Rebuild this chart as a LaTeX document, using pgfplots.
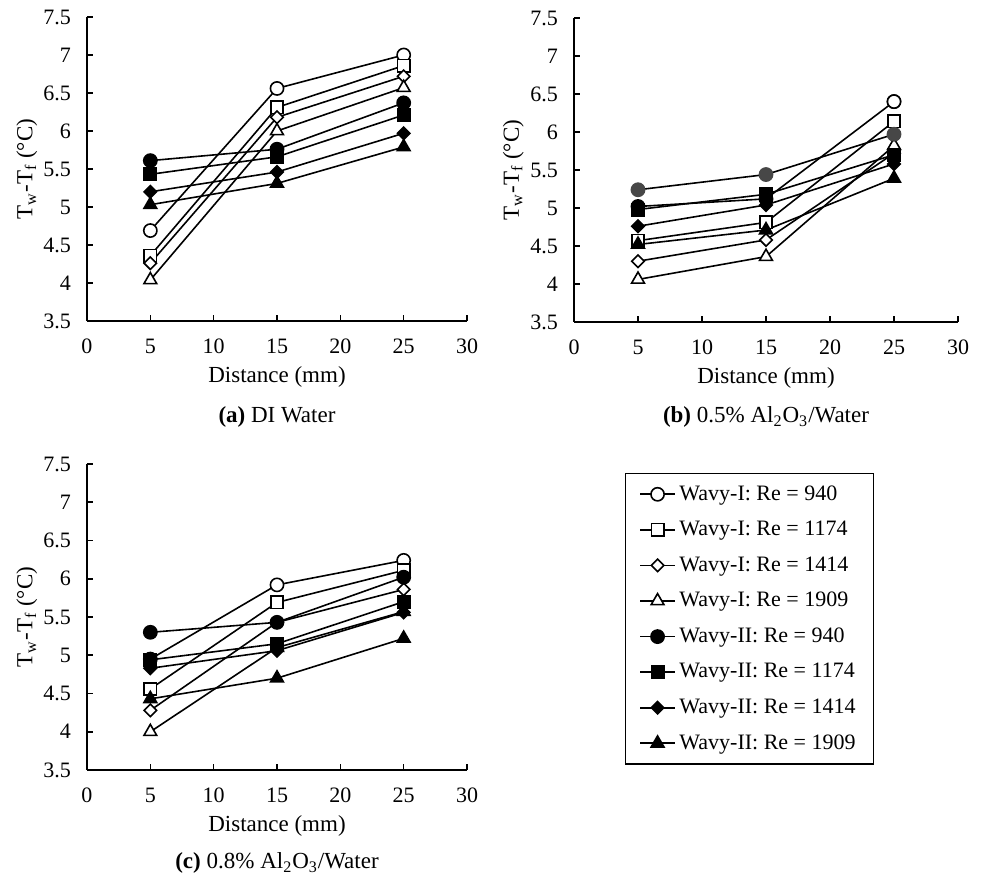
\documentclass[border=0pt]{standalone}
\usepackage{pgfplots}
\pgfplotsset{compat=1.18}
\usepackage{fontspec}
\setmainfont{Liberation Serif}

\pgfplotsset{
  panel/.style={
    scale only axis, width=190pt, height=152pt,
    xmin=0, xmax=30, ymin=3.5, ymax=7.5,
    xtick={0,5,...,30}, ytick={3.5,4,...,7.5},
    axis lines=left, axis line style={-, line width=0.8pt},
    tick align=inside, major tick length=3pt, tick style={black, line width=0.8pt},
    /pgf/number format/assume math mode=true,
    tick label style={font=\fontsize{11}{13}\selectfont},
    yticklabel style={xshift=-4.5pt},
    xticklabel style={anchor=center, yshift=-12.5pt},
    label style={font=\fontsize{11.5}{14}\selectfont},
    xlabel={Distance (mm)},
    xlabel style={at={(axis description cs:0.5,0)}, anchor=center, yshift=-28pt},
    ylabel={T\textsubscript{w}-T\textsubscript{f} (°C)},
    ylabel style={at={(axis description cs:-0.158,0.5)}, anchor=center},
    clip=false,
  },
  s1/.style={black, line width=0.8pt, mark=*, mark size=3.3pt, mark options={solid, fill=white}},
  s2/.style={black, line width=0.8pt, mark=square*, mark size=3.1pt, mark options={solid, fill=white}},
  s3/.style={black, line width=0.8pt, mark=square*, mark size=2.2pt, mark options={solid, rotate=45, fill=white}},
  s4/.style={black, line width=0.8pt, mark=triangle*, mark size=3.7pt, mark options={solid, fill=white}},
  s5/.style={black, line width=0.8pt, mark=*, mark size=3.3pt, mark options={solid, fill=black}},
  s6/.style={black, line width=0.8pt, mark=square*, mark size=3.1pt, mark options={solid, fill=black}},
  s7/.style={black, line width=0.8pt, mark=square*, mark size=2.2pt, mark options={solid, rotate=45, fill=black}},
  s8/.style={black, line width=0.8pt, mark=triangle*, mark size=3.7pt, mark options={solid, fill=black}},
}

\begin{document}
\begin{tikzpicture}
\path[use as bounding box] (0,0) rectangle (492pt,438.5pt);

% (a) DI Water
\begin{axis}[panel, at={(43.5pt,278pt)}, anchor=south west]
\addplot[s1] coordinates {(5,4.69) (15,6.56) (25,7.00)};
\addplot[s2] coordinates {(5,4.36) (15,6.31) (25,6.86)};
\addplot[s3] coordinates {(5,4.26) (15,6.18) (25,6.72)};
\addplot[s4] coordinates {(5,4.04) (15,6.00) (25,6.57)};
\addplot[s5] coordinates {(5,5.61) (15,5.76) (25,6.37)};
\addplot[s6] coordinates {(5,5.43) (15,5.66) (25,6.21)};
\addplot[s7] coordinates {(5,5.20) (15,5.46) (25,5.97)};
\addplot[s8] coordinates {(5,5.03) (15,5.31) (25,5.79)};
\end{axis}

% (b) 0.5% Al2O3/Water
\begin{axis}[panel, width=192pt, at={(287pt,277.5pt)}, anchor=south west]
\addplot[s1, mark options={fill=black}] coordinates {(5,5.02) (15,5.12) (25,6.40)};
\addplot[s1, only marks, forget plot] coordinates {(25,6.40)};
\addplot[s2] coordinates {(5,4.57) (15,4.81) (25,6.14)};
\addplot[s3] coordinates {(5,4.30) (15,4.58) (25,5.72)};
\addplot[s4] coordinates {(5,4.06) (15,4.36) (25,5.82)};
\addplot[s5, mark options={fill=black!72, draw=black!72}] coordinates {(5,5.24) (15,5.44) (25,5.97)};
\addplot[s6] coordinates {(5,4.98) (15,5.18) (25,5.70)};
\addplot[s7] coordinates {(5,4.76) (15,5.04) (25,5.58)};
\addplot[s8] coordinates {(5,4.52) (15,4.71) (25,5.39)};
\end{axis}

% (c) 0.8% Al2O3/Water
\begin{axis}[panel, height=153pt, at={(43.5pt,53.5pt)}, anchor=south west,
  legend cell align=left,
  legend style={at={(axis description cs:1.416,0.971)}, anchor=north west,
    draw=black, line width=0.6pt, row sep=5pt, inner xsep=7pt, inner ysep=4pt,
    font=\fontsize{11}{13}\selectfont},
]
\addplot[s1] coordinates {(5,4.95) (15,5.92) (25,6.24)};
\addplot[s2] coordinates {(5,4.56) (15,5.69) (25,6.11)};
\addplot[s3] coordinates {(5,4.28) (15,5.43) (25,5.86)};
\addplot[s4] coordinates {(5,4.00) (15,5.10) (25,5.57)};
\addplot[s5] coordinates {(5,5.30) (15,5.43) (25,6.02)};
\addplot[s6] coordinates {(5,4.94) (15,5.15) (25,5.70)};
\addplot[s7] coordinates {(5,4.83) (15,5.06) (25,5.56)};
\addplot[s8] coordinates {(5,4.43) (15,4.70) (25,5.22)};
\legend{Wavy-I: Re = 940, Wavy-I: Re = 1174, Wavy-I: Re = 1414, Wavy-I: Re = 1909,
  Wavy-II: Re = 940, Wavy-II: Re = 1174, Wavy-II: Re = 1414, Wavy-II: Re = 1909}
\end{axis}

\begin{scope}[every node/.style={font=\fontsize{11.5}{14}\selectfont}]
\node at (138.5pt,230pt) {\textbf{(a)} DI Water};
\node at (383pt,230pt) {\textbf{(b)} 0.5\% Al\textsubscript{2}O\textsubscript{3}/Water};
\node at (138.5pt,7pt) {\textbf{(c)} 0.8\% Al\textsubscript{2}O\textsubscript{3}/Water};
\end{scope}
\end{tikzpicture}
\end{document}
